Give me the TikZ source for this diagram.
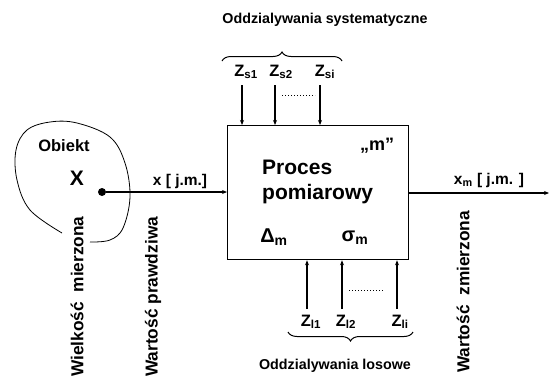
\documentclass[tikz,border=0pt]{standalone}
\usepackage{fontspec}
\setmainfont{Liberation Sans}
\usetikzlibrary{arrows.meta,decorations.pathreplacing}
\begin{document}
\begin{tikzpicture}[x=1pt,y=-1pt,
  arr/.style={line width=1.3pt,-{Stealth[length=5pt,width=4pt]}},
  zl/.style={font=\bfseries\fontsize{16.5}{18}\selectfont,inner sep=0pt},
  big/.style={font=\bfseries\fontsize{20}{22}\selectfont,inner sep=0pt},
  small/.style={font=\bfseries\fontsize{15.5}{17}\selectfont,inner sep=0pt},
  vert/.style={font=\bfseries\fontsize{17.3}{20}\selectfont,rotate=90,inner sep=0pt},
  title/.style={font=\bfseries\fontsize{14.3}{16}\selectfont,inner sep=0pt},
  brc/.style={line width=1pt,decorate,decoration={brace,amplitude=9pt}},
  dots/.style={line width=1pt,dotted}
]
\useasboundingbox (0,0) rectangle (551,378);
% process box
\node[draw,line width=1.3pt,minimum width=181pt,minimum height=134pt,anchor=north west,inner sep=0pt] (box) at (227,125) {};
\node[big,font=\bfseries\fontsize{18}{20}\selectfont] (m) at (377,146) {„m”};
\node[font=\bfseries\fontsize{21}{25}\selectfont,align=left,anchor=west,inner sep=0pt] (proc) at (262,182) {Proces\\pomiarowy};
\node[big] (delta) at (274,237) {Δ\textsubscript{m}};
\node[big] (sigma) at (355,238) {σ\textsubscript{m}};
% object
\draw[line width=0.8pt] plot[smooth,tension=0.6] coordinates {(62,233) (30,210) (17,180) (16,150) (27,130) (50,122) (77,123) (110,137) (125,163) (130,197) (123,228) (110,240) (90,242)};
\node[small,font=\bfseries\fontsize{16.5}{18}\selectfont] (obj) at (64,146) {Obiekt};
\node[big,font=\bfseries\fontsize{21}{23}\selectfont] (X) at (77,178) {X};
\node[circle,fill=black,inner sep=0pt,minimum size=8pt] (dot) at (102,192) {};
\coordinate (inL) at (box.west |- dot);
\draw[arr] (dot) -- (inL);
\node[small] (xl) at (180,181) {x [ j.m.]};
\node[vert,anchor=west] (wm) at (77,377) {Wielkość\ \ mierzona};
\node[vert,anchor=west] (wp) at (153,377) {Wartość prawdziwa};
% output
\coordinate (outS) at (box.east |- 0,193);
\coordinate (outE) at (549,193);
\draw[arr] (outS) -- (outE);
\node[small] (xm) at (489,180) {x\textsubscript{m} [ j.m. ]};
\node[vert,anchor=west] (wz) at (463,373) {Wartość\ \ zmierzona};
% systematic
\node[title] (ts) at (325,20) {Oddzialywania systematyczne};
\draw[brc] (222,61) -- (342,61);
\node[zl] (zs1) at (246,72) {Z\textsubscript{s1}};
\node[zl] (zs2) at (281,72) {Z\textsubscript{s2}};
\node[zl] (zsi) at (325,72) {Z\textsubscript{si}};
\coordinate (s1a) at (242,85); \coordinate (s2a) at (275,85); \coordinate (sia) at (320,85);
\draw[arr] (s1a) -- (s1a |- box.north);
\draw[arr] (s2a) -- (s2a |- box.north);
\draw[arr] (sia) -- (sia |- box.north);
\draw[dots] (282,95) -- (315,95);
% random
\coordinate (l1a) at (307,309); \coordinate (l2a) at (342,309); \coordinate (lia) at (397,309);
\draw[arr] (l1a) -- (l1a |- box.south);
\draw[arr] (l2a) -- (l2a |- box.south);
\draw[arr] (lia) -- (lia |- box.south);
\draw[dots] (349,290) -- (383,290);
\node[zl] (zl1) at (311,322) {Z\textsubscript{l1}};
\node[zl] (zl2) at (346,322) {Z\textsubscript{l2}};
\node[zl] (zli) at (400,322) {Z\textsubscript{li}};
\draw[brc] (413,332) -- (288,332);
\node[title] (tl) at (335,366) {Oddzialywania losowe};
\end{tikzpicture}
\end{document}
